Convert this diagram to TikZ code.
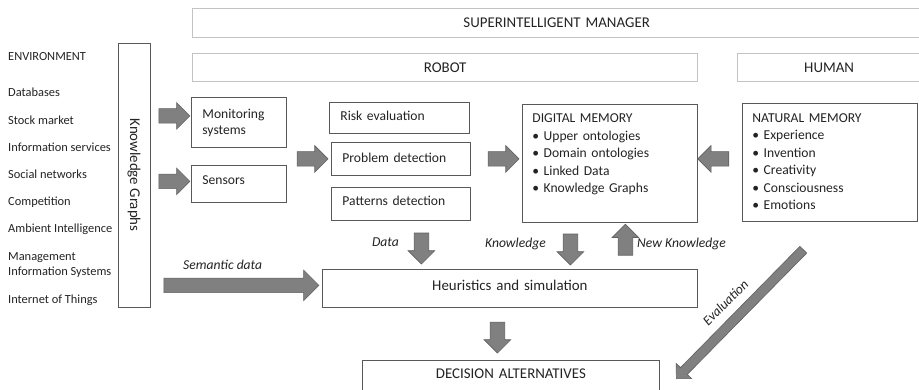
\documentclass[tikz,border=0pt]{standalone}
\usepackage{fontspec}
\usepackage{graphicx}
\setmainfont{Carlito}
\usetikzlibrary{shapes.arrows,positioning,calc}

\definecolor{boxline}{RGB}{89,89,89}
\definecolor{paleline}{RGB}{195,195,195}
\definecolor{arrowfill}{RGB}{128,128,128}
\definecolor{arrowline}{RGB}{96,96,96}
\definecolor{inktext}{RGB}{35,35,35}

\begin{document}
\begin{tikzpicture}[x=1pt,y=-1pt,every node/.style={text=inktext}]
  \tikzstyle{box}=[draw=boxline,line width=0.8pt,anchor=north west,inner ysep=4pt,
                   font=\fontsize{13.6}{16}\selectfont,align=left]
  \tikzstyle{layer}=[draw=paleline,line width=1.3pt,anchor=north west,inner ysep=4pt,
                     inner xsep=4pt,font=\fontsize{14.9}{18}\selectfont,align=center]
  \tikzstyle{envitem}=[anchor=base west,inner sep=0pt,font=\fontsize{12.4}{15}\selectfont,align=left]
  \tikzstyle{fat}=[single arrow,draw=arrowline,fill=arrowfill,line width=0.6pt,inner xsep=0pt,
                   inner ysep=7pt,single arrow head extend=6pt,minimum height=31pt,
                   sloped,allow upside down]
  \tikzstyle{lbl}=[inner sep=0pt,font=\fontsize{13.6}{16}\selectfont\itshape]

  \useasboundingbox (0,0) rectangle (919,390);

  % layers
  \node[layer,text width=720pt,text height=15.3pt,text depth=5.7pt] (manager) at (192,8)  {SUPERINTELLIGENT MANAGER};
  \node[layer,text width=497pt,text height=14.7pt,text depth=5.3pt] (robot)   at (192,53) {ROBOT};
  \node[layer,text width=175pt,text height=14.7pt,text depth=5.3pt] (human)   at (737,53) {HUMAN};

  % environment
  \node[envitem] (env) at (8,61) {ENVIRONMENT};
  \foreach \src [count=\i] in {Databases,Stock market,Information services,Social networks,Competition,Ambient Intelligence}
    \node[envitem] (src\i) at (8,69.8+27.2*\i) {\src};
  \node[envitem] (src7) at (8,276) {Management\\Information Systems};
  \node[envitem] (src8) at (8,304) {Internet of Things};

  \node[draw=boxline,line width=0.8pt,minimum width=32pt,minimum height=264pt,inner sep=0pt,
        font=\fontsize{14.9}{18}\selectfont] (kg) at (134,175) {\rotatebox{-90}{Knowledge Graphs}};

  % robot
  \node[box,text width=73pt,inner xsep=11pt,text height=17pt,text depth=25pt]     (monitor)  at (191,97)  {Monitoring\\systems};
  \node[box,text width=73pt,inner xsep=11pt,text height=15pt,text depth=14pt]     (sensors)  at (191,165) {Sensors};
  \node[box,text width=118pt,inner xsep=11pt,text height=14.5pt,text depth=8.5pt] (risk)     at (329,102) {Risk evaluation};
  \node[box,text width=117pt,inner xsep=11pt,text height=16pt,text depth=9pt]     (problem)  at (331,142) {Problem detection};
  \node[box,text width=117pt,inner xsep=11pt,text height=14pt,text depth=11pt]    (patterns) at (331,187) {Patterns detection};
  \node[box,text width=155pt,inner xsep=10pt,text height=14.5pt,text depth=95.5pt,
        font=\fontsize{13.6}{17.5}\selectfont] (digital) at (522,104)
        {DIGITAL MEMORY\\\textbullet\ Upper ontologies\\\textbullet\ Domain ontologies\\\textbullet\ Linked Data\\\textbullet\ Knowledge Graphs};
  \node[box,text width=155pt,inner xsep=10pt,text height=15pt,text depth=95pt,
        font=\fontsize{13.6}{17.5}\selectfont] (natural) at (742,103)
        {NATURAL MEMORY\\\textbullet\ Experience\\\textbullet\ Invention\\\textbullet\ Creativity\\\textbullet\ Consciousness\\\textbullet\ Emotions};
  \node[box,align=center,text width=367pt,inner xsep=4pt,text height=17pt,text depth=13pt,
        font=\fontsize{14.9}{18}\selectfont] (heur) at (322,269) {Heuristics and simulation};
  \node[box,align=center,text width=289pt,inner xsep=4pt,text height=14pt,text depth=15pt,
        font=\fontsize{14.9}{18}\selectfont] (decision) at (362,360) {DECISION ALTERNATIVES};

  % block arrows
  \path ($(kg.east |- monitor.west)+(0,-6.5)$) -- node[fat]{} ($(monitor.west)+(0,-6.5)$);
  \path ($(kg.east |- sensors.west)+(0,-2.5)$) -- node[fat]{} ($(sensors.west)+(0,-2.5)$);
  \path (monitor.east |- problem.west) -- node[fat]{} (problem.west);
  \path ($(problem.east)+(3.5,0)$) -- node[fat]{} ($(digital.west |- problem.east)+(3.5,0)$);
  \path ($(natural.west |- problem.east)+(-3,0)$) -- node[fat]{} ($(digital.east |- problem.east)+(-3,0)$);
  \path ($(patterns.south)+(20.5,0)$) -- node[fat]{} ($(patterns.south |- heur.north)+(20.5,0)$);
  \path ($(digital.south)+(-39.5,0)$) -- node[fat]{} ($(digital.south |- heur.north)+(-39.5,0)$);
  \path ($(digital.south |- heur.north)+(15.5,-2.5)$) -- node[fat]{} ($(digital.south)+(15.5,-2.5)$);
  \path ($(heur.south)+(-12.5,0)$) -- node[fat]{} ($(heur.south |- decision.north)+(-12.5,0)$);
  \path ($(kg.east |- heur.west)+(1.5,-3)$) -- node[fat,minimum height=155pt,single arrow head extend=8pt]{} ($(heur.west)+(1.5,-3)$);

  \coordinate (evaltop) at (805,248);
  \coordinate (evaltip) at (678,377);
  \path (evaltop) -- node[fat,minimum height=181pt,inner ysep=4.5pt,single arrow head extend=6pt]{} (evaltip);

  % labels
  \node[lbl,anchor=base west] (semlbl)  at (183,270) {Semantic data};
  \node[lbl,anchor=base east] (datalbl) at (399,247) {Data};
  \node[lbl,anchor=base east] (knowlbl) at (546,248) {Knowledge};
  \node[lbl,anchor=base west] (newlbl)  at (637,248) {New Knowledge};
  \node[lbl,rotate=45.5]      (evallbl) at (725.5,302.5) {Evaluation};
\end{tikzpicture}
\end{document}
